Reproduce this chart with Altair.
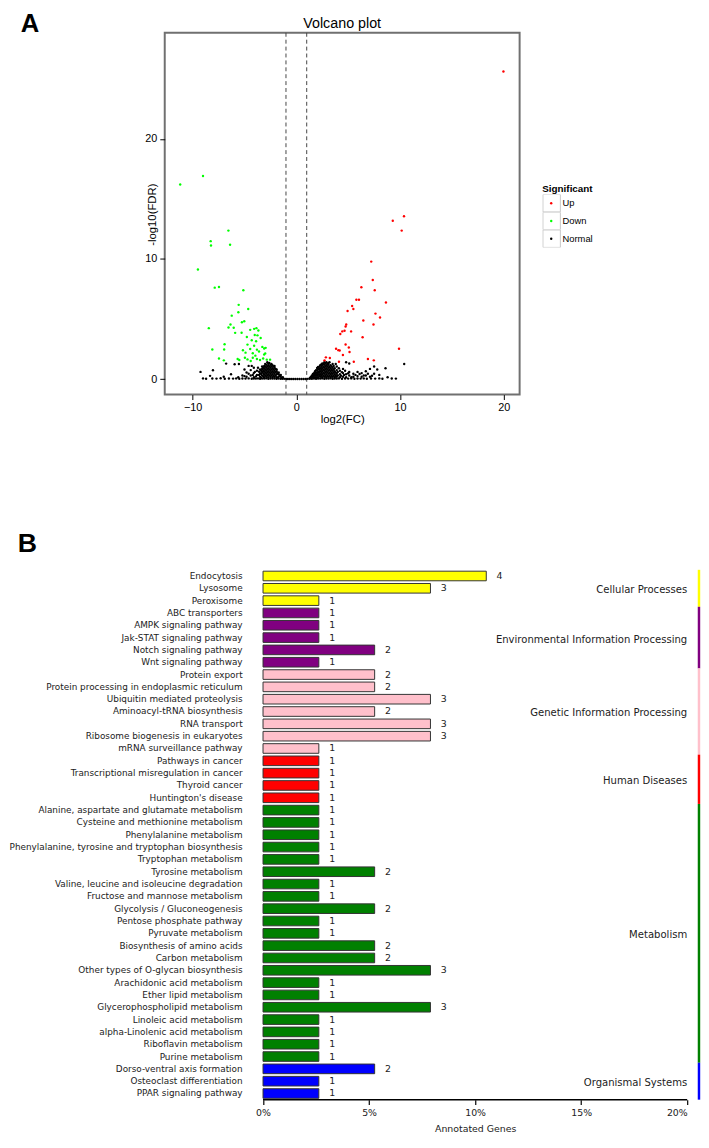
import altair as alt
import pandas as pd

# ---------------- Panel A: volcano plot data ----------------
up_points = [
    (19.97, 25.6), (10.38, 13.56), (9.30, 13.18), (10.16, 12.36), (7.22, 9.78),
    (7.37, 8.25), (6.27, 7.64), (7.56, 7.40), (5.79, 6.60), (6.04, 6.60),
    (8.64, 6.38), (5.38, 6.08), (5.50, 5.84), (4.94, 5.67), (7.63, 5.45),
    (8.07, 5.12), (6.46, 4.88), (7.44, 4.55), (4.81, 4.55), (4.75, 4.38),
    (4.65, 4.03), (4.43, 3.97), (4.24, 3.75), (5.28, 3.97), (6.39, 3.48),
    (4.75, 2.88), (5.06, 2.63), (3.83, 2.52), (4.05, 2.41), (4.18, 2.38),
    (4.49, 2.00), (5.13, 2.25), (9.90, 2.52), (2.85, 1.81), (3.23, 1.75),
    (2.72, 1.56), (4.11, 1.45), (6.90, 1.67), (7.47, 1.56), (5.54, 1.45),
]
down_points = [
    (-11.2, 16.2), (-9.0, 16.9), (-9.49, 9.12), (-6.55, 12.36), (-8.26, 11.48),
    (-8.23, 11.12), (-6.39, 11.18), (-7.87, 7.61), (-7.46, 7.66), (-5.11, 7.39),
    (-5.56, 6.18), (-4.64, 5.83), (-5.59, 5.56), (-6.23, 5.28), (-5.02, 4.82),
    (-5.25, 4.73), (-6.35, 4.54), (-8.44, 4.24), (-6.54, 4.30), (-6.04, 4.27),
    (-5.28, 3.86), (-5.90, 3.85), (-4.45, 4.10), (-4.07, 4.18), (-3.85, 4.24),
    (-3.66, 4.05), (-4.01, 3.67), (-3.75, 3.64), (-4.77, 3.50), (-4.30, 3.23),
    (-3.88, 3.15), (-3.44, 3.42), (-3.28, 2.68), (-2.96, 2.60), (-6.92, 2.90),
    (-6.96, 2.46), (-8.10, 2.46), (-4.71, 2.87), (-4.07, 2.77), (-4.45, 2.50),
    (-3.80, 2.45), (-4.90, 2.20), (-4.20, 2.15), (-3.60, 2.30), (-3.10, 2.05),
    (-7.46, 1.72), (-6.99, 1.56), (-5.66, 1.67), (-5.50, 1.59), (-4.96, 1.78),
    (-4.71, 1.64), (-4.20, 1.78), (-3.80, 1.67), (-3.50, 1.59), (-3.20, 1.72),
    (-2.85, 1.62), (-4.40, 1.50), (-5.15, 2.40), (-3.95, 1.95), (-2.53, 1.62),
    (-3.00, 2.14), (-3.10, 2.55),
]
normal_points = [
    # points lying close to zero
    (-9.0, 0.06), (-8.7, 0.03), (-8.1, 0.05), (-7.7, 0.04), (-7.3, 0.07), (-6.9, 0.03),
    (-6.5, 0.05), (-6.1, 0.04), (-5.8, 0.06), (-5.5, 0.03), (-5.2, 0.05), (-4.9, 0.04),
    (-4.6, 0.06), (-4.3, 0.03), (-4.1, 0.05), (-3.9, 0.04), (-3.7, 0.06), (-3.5, 0.03),
    (-3.3, 0.05), (-3.1, 0.04), (-2.9, 0.06), (-2.7, 0.03), (-2.5, 0.05), (-2.3, 0.04),
    (-2.1, 0.05), (-1.9, 0.03), (-1.7, 0.04), (-1.5, 0.02), (-1.3, 0.03), (-1.1, 0.02),
    (-0.9, 0.01), (-0.7, 0.01), (-0.5, 0.01), (-0.3, 0.01), (-0.1, 0.01), (0.1, 0.01),
    (0.3, 0.01), (0.5, 0.01), (0.7, 0.01), (0.9, 0.01), (1.1, 0.02), (1.3, 0.03),
    (1.5, 0.02), (1.7, 0.04), (1.9, 0.03), (2.1, 0.05), (2.3, 0.04), (2.5, 0.06),
    (2.7, 0.03), (2.9, 0.05), (3.1, 0.04), (3.3, 0.06), (3.5, 0.03), (3.7, 0.05),
    (3.9, 0.04), (4.1, 0.06), (4.4, 0.03), (4.7, 0.05), (5.0, 0.04), (5.3, 0.06),
    (5.6, 0.03), (5.9, 0.05), (6.2, 0.04), (6.5, 0.06), (6.8, 0.03), (7.2, 0.05),
    (7.6, 0.04), (8.0, 0.06), (8.3, 0.03), (9.2, 0.05), (9.6, 0.04),
    # left hill
    (-1.3, 0.15), (-1.5, 0.20), (-1.5, 0.35), (-1.7, 0.20), (-1.7, 0.40), (-1.7, 0.55),
    (-1.9, 0.15), (-1.9, 0.40), (-1.9, 0.65), (-1.9, 0.80), (-2.1, 0.20), (-2.1, 0.45),
    (-2.1, 0.70), (-2.1, 0.95), (-2.1, 1.10), (-2.3, 0.15), (-2.3, 0.40), (-2.3, 0.65),
    (-2.3, 0.90), (-2.3, 1.15), (-2.5, 0.20), (-2.5, 0.45), (-2.5, 0.70), (-2.5, 0.95),
    (-2.5, 1.20), (-2.7, 0.15), (-2.7, 0.40), (-2.7, 0.65), (-2.7, 0.90), (-2.7, 1.15),
    (-2.7, 1.30), (-2.9, 0.20), (-2.9, 0.45), (-2.9, 0.70), (-2.9, 0.95), (-2.9, 1.20),
    (-3.1, 0.15), (-3.1, 0.40), (-3.1, 0.65), (-3.1, 0.90), (-3.1, 1.10), (-3.3, 0.30),
    (-3.3, 0.60), (-3.3, 0.85), (-3.3, 1.05), (-3.5, 0.20), (-3.5, 0.50), (-3.5, 0.80),
    (-3.8, 0.35), (-3.8, 0.70), (-4.1, 0.15), (-4.1, 0.50), (-4.1, 0.95), (-4.4, 0.30),
    (-4.4, 0.75), (-4.8, 0.20), (-4.8, 0.55), (-5.2, 0.30), (-5.6, 0.15),
    (-1.4, 0.08), (-1.6, 0.28), (-1.8, 0.12), (-1.8, 0.48), (-2.0, 0.30), (-2.0, 0.58),
    (-2.0, 0.85), (-2.2, 0.28), (-2.2, 0.55), (-2.2, 0.80), (-2.2, 1.05), (-2.4, 0.30),
    (-2.4, 0.55), (-2.4, 0.80), (-2.4, 1.05), (-2.4, 1.25), (-2.6, 0.30), (-2.6, 0.55),
    (-2.6, 0.80), (-2.6, 1.05), (-2.6, 1.35), (-2.8, 0.30), (-2.8, 0.55), (-2.8, 0.80),
    (-2.8, 1.05), (-2.8, 1.40), (-3.0, 0.30), (-3.0, 0.55), (-3.0, 0.80), (-3.0, 1.05),
    (-3.0, 1.25), (-3.2, 0.25), (-3.2, 0.50), (-3.2, 0.75), (-3.2, 0.98), (-3.4, 0.12),
    (-3.4, 0.42), (-3.4, 0.70), (-3.6, 0.35), (-3.6, 0.62), (-3.7, 0.95), (-3.9, 0.22),
    (-4.0, 0.60), (-4.2, 0.35), (-4.3, 1.10), (-4.6, 0.45), (-5.0, 0.25),
    # right hill
    (1.3, 0.10), (1.5, 0.15), (1.5, 0.30), (1.7, 0.15), (1.7, 0.35), (1.7, 0.50),
    (1.9, 0.15), (1.9, 0.35), (1.9, 0.55), (1.9, 0.75), (2.1, 0.15), (2.1, 0.40),
    (2.1, 0.60), (2.1, 0.85), (2.1, 1.00), (2.3, 0.20), (2.3, 0.40), (2.3, 0.65),
    (2.3, 0.90), (2.3, 1.15), (2.5, 0.15), (2.5, 0.40), (2.5, 0.65), (2.5, 0.90),
    (2.5, 1.15), (2.5, 1.30), (2.7, 0.20), (2.7, 0.45), (2.7, 0.70), (2.7, 0.95),
    (2.7, 1.20), (2.7, 1.40), (2.9, 0.15), (2.9, 0.40), (2.9, 0.65), (2.9, 0.90),
    (2.9, 1.15), (2.9, 1.40), (3.1, 0.20), (3.1, 0.45), (3.1, 0.70), (3.1, 0.95),
    (3.1, 1.20), (3.1, 1.35), (3.3, 0.15), (3.3, 0.40), (3.3, 0.65), (3.3, 0.90),
    (3.3, 1.15), (3.5, 0.20), (3.5, 0.45), (3.5, 0.70), (3.5, 0.95), (3.5, 1.25),
    (3.7, 0.15), (3.7, 0.40), (3.7, 0.65), (3.7, 0.90), (3.9, 0.20), (3.9, 0.45),
    (3.9, 0.75), (3.9, 1.05), (4.2, 0.15), (4.2, 0.40), (4.2, 0.70), (4.5, 0.20),
    (4.5, 0.50), (4.5, 0.85), (4.8, 0.15), (4.8, 0.40), (4.8, 1.40), (5.1, 0.30),
    (5.1, 0.60), (5.1, 1.30), (5.5, 0.20), (5.5, 0.45), (5.9, 0.25), (5.9, 0.60),
    (6.3, 0.20), (6.3, 0.50), (6.7, 0.30), (6.7, 0.65), (7.1, 0.20), (7.1, 0.85),
    (7.5, 0.45), (7.5, 1.05), (7.8, 0.80), (8.6, 0.90), (10.4, 1.26),
    (1.4, 0.18), (1.6, 0.22), (1.6, 0.42), (1.8, 0.28), (1.8, 0.48), (1.8, 0.65),
    (2.0, 0.28), (2.0, 0.50), (2.0, 0.72), (2.0, 0.92), (2.2, 0.28), (2.2, 0.52),
    (2.2, 0.78), (2.2, 1.02), (2.4, 0.28), (2.4, 0.52), (2.4, 0.78), (2.4, 1.02),
    (2.4, 1.22), (2.6, 0.28), (2.6, 0.52), (2.6, 0.78), (2.6, 1.02), (2.6, 1.25),
    (2.8, 0.28), (2.8, 0.55), (2.8, 0.80), (2.8, 1.05), (2.8, 1.30), (3.0, 0.28),
    (3.0, 0.55), (3.0, 0.80), (3.0, 1.05), (3.0, 1.28), (3.2, 0.28), (3.2, 0.52),
    (3.2, 0.78), (3.2, 1.02), (3.2, 1.40), (3.4, 0.28), (3.4, 0.52), (3.4, 0.78),
    (3.4, 1.05), (3.6, 0.28), (3.6, 0.55), (3.6, 0.80), (3.6, 1.10), (3.8, 0.28),
    (3.8, 0.55), (3.8, 1.25), (4.0, 0.30), (4.0, 0.60), (4.1, 0.90), (4.3, 0.28),
    (4.4, 0.58), (4.6, 0.35), (4.7, 0.70), (5.0, 0.48), (5.3, 0.15), (5.7, 0.35),
    (6.1, 0.42), (6.5, 0.30), (6.9, 0.45), (7.3, 0.28), (8.0, 0.35), (8.8, 0.15),
    # scattered
    (-9.24, 0.60), (-8.32, 0.27), (-8.04, 0.74), (-6.77, 1.29), (-5.95, 1.23),
    (-5.54, 1.26), (-6.30, 0.40), (-5.00, 0.80), (-4.60, 1.10), (-7.00, 0.20),
]
fc_cutoffs = [-1, 1]
volcano_x_ticks = [-10, 0, 10, 20]
volcano_y_ticks = [0, 10, 20]
sig_levels = ["Up", "Down", "Normal"]
sig_colors = ["#ff0000", "#00ff00", "#000000"]
key_slots = ["k1", "k2", "k3"]   # legend key boxes (labels hidden)

# ---------------- Panel B: KEGG classification data ----------------
pathways = [
    "Endocytosis", "Lysosome", "Peroxisome",
    "ABC transporters", "AMPK signaling pathway", "Jak-STAT signaling pathway",
    "Notch signaling pathway", "Wnt signaling pathway",
    "Protein export", "Protein processing in endoplasmic reticulum",
    "Ubiquitin mediated proteolysis", "Aminoacyl-tRNA biosynthesis", "RNA transport",
    "Ribosome biogenesis in eukaryotes", "mRNA surveillance pathway",
    "Pathways in cancer", "Transcriptional misregulation in cancer", "Thyroid cancer",
    "Huntington's disease",
    "Alanine, aspartate and glutamate metabolism", "Cysteine and methionine metabolism",
    "Phenylalanine metabolism", "Phenylalanine, tyrosine and tryptophan biosynthesis",
    "Tryptophan metabolism", "Tyrosine metabolism",
    "Valine, leucine and isoleucine degradation", "Fructose and mannose metabolism",
    "Glycolysis / Gluconeogenesis", "Pentose phosphate pathway", "Pyruvate metabolism",
    "Biosynthesis of amino acids", "Carbon metabolism",
    "Other types of O-glycan biosynthesis", "Arachidonic acid metabolism",
    "Ether lipid metabolism", "Glycerophospholipid metabolism", "Linoleic acid metabolism",
    "alpha-Linolenic acid metabolism", "Riboflavin metabolism", "Purine metabolism",
    "Dorso-ventral axis formation", "Osteoclast differentiation", "PPAR signaling pathway",
]
gene_counts = [
    4, 3, 1,
    1, 1, 1, 2, 1,
    2, 2, 3, 2, 3, 3, 1,
    1, 1, 1, 1,
    1, 1, 1, 1, 1, 2, 1, 1, 2, 1, 1, 2, 2, 3, 1, 1, 3, 1, 1, 1, 1,
    2, 1, 1,
]
class_names = ["Cellular Processes", "Environmental Information Processing",
               "Genetic Information Processing", "Human Diseases", "Metabolism",
               "Organismal Systems"]
class_sizes = [3, 5, 7, 4, 21, 3]
class_colors = ["#ffff00", "#800080", "#ffc0cb", "#ff0000", "#008000", "#0000ff"]
total_annotated = 38
pct_ticks = [0, 5, 10, 15, 20]

# ---------------- tables ----------------
vrows = []
for lvl, pts in [("Normal", normal_points), ("Down", down_points), ("Up", up_points)]:
    for x, y in pts:
        vrows.append({"log2FC": x, "logFDR": y, "Significant": lvl})
vdf = pd.DataFrame(vrows)

row_class, row_color = [], []
for name, n, col in zip(class_names, class_sizes, class_colors):
    row_class += [name] * n
    row_color += [col] * n
bdf = pd.DataFrame({
    "row": list(range(len(pathways))),
    "pathway": pathways,
    "count": gene_counts,
    "pct": [c / total_annotated * 100 for c in gene_counts],
    "cls": row_class,
    "color": row_color,
})
side = []
start = 0
for name, n, col in zip(class_names, class_sizes, class_colors):
    side.append({"cls": name, "first": start, "last": start + n - 1, "color": col})
    start += n
sdf = pd.DataFrame(side)

# ---------------- Panel A ----------------
VF = "Liberation Sans"
xs_a = alt.Scale(domain=[-12.69, 21.53], nice=False, zero=False)
ys_a = alt.Scale(domain=[-1.29, 28.82], nice=False, zero=False)
ax_x = alt.Axis(values=volcano_x_ticks, title="log2(FC)", grid=False, domain=False,
                tickColor="black", tickSize=5, labelFont=VF, labelFontSize=11,
                labelColor="black", labelPadding=2, titleFont=VF, titleFontSize=11.5,
                titleFontWeight="normal", titleColor="black", titlePadding=1)
ax_y = alt.Axis(values=volcano_y_ticks, title="-log10(FDR)", grid=False, domain=False,
                tickColor="black", tickSize=5, labelFont=VF, labelFontSize=11,
                labelColor="black", labelPadding=3, titleFont=VF, titleFontSize=11.5,
                titleFontWeight="normal", titleColor="black", titleX=-12, titleY=184,
                titleAlign="center", titleBaseline="middle", titleAngle=270)

KEY_H = 17.7  # height of one legend key box

cut_rules = alt.Chart(pd.DataFrame({"log2FC": fc_cutoffs})).mark_rule(
    strokeDash=[4, 3], color="#444444", strokeWidth=1
).encode(x=alt.X("log2FC:Q", scale=xs_a, axis=ax_x))

points = alt.Chart(vdf).mark_circle(size=6, opacity=1).encode(
    x=alt.X("log2FC:Q", scale=xs_a, axis=ax_x),
    y=alt.Y("logFDR:Q", scale=ys_a, axis=ax_y),
    color=alt.Color("Significant:N", scale=alt.Scale(domain=sig_levels, range=sig_colors),
                    legend=alt.Legend(title="Significant", orient="none", legendX=383,
                                      legendY=153, titleFont=VF, titleFontSize=10,
                                      titleFontWeight="bold", titleColor="black",
                                      titlePadding=1, labelFont=VF, labelFontSize=9.5,
                                      labelColor="black", symbolSize=6, symbolType="circle",
                                      symbolOffset=4.3, labelOffset=6.7, rowPadding=0,
                                      clipHeight=KEY_H)),
)

# invisible layer whose only purpose is the grey key boxes behind the legend dots
key_boxes = alt.Chart(pd.DataFrame({"key": key_slots})).mark_point(size=0).encode(
    x=alt.value(0), y=alt.value(0),
    shape=alt.Shape("key:N", scale=alt.Scale(domain=key_slots, range=["square"] * 3),
                    legend=alt.Legend(title="Significant", orient="none", legendX=383,
                                      legendY=153, titleFont=VF, titleFontSize=10,
                                      titleFontWeight="bold", titleColor="transparent",
                                      titlePadding=1, labelFont=VF, labelFontSize=9.5,
                                      labelExpr="''", symbolType="square",
                                      symbolSize=KEY_H * KEY_H, symbolStrokeColor="#c8c8c8",
                                      symbolStrokeWidth=1, symbolFillColor="transparent",
                                      symbolOpacity=1, symbolOffset=0, rowPadding=0,
                                      clipHeight=KEY_H)),
)

letter_a = alt.Chart(pd.DataFrame({"t": ["A"]})).mark_text(
    font=VF, fontSize=26, fontWeight="bold", align="left", baseline="alphabetic", color="black"
).encode(text="t:N", x=alt.value(-146), y=alt.value(-1))

title_a = alt.Chart(pd.DataFrame({"t": ["Volcano plot"]})).mark_text(
    font=VF, fontSize=14.5, align="center", baseline="alphabetic", color="black"
).encode(text="t:N", x=alt.value(180), y=alt.value(-4.5))

panel_a = alt.layer(cut_rules, key_boxes, points, letter_a, title_a).properties(
    width=360, height=367,
    view=alt.ViewBackground(stroke="#707070", strokeWidth=2),
)

# ---------------- Panel B ----------------
BF = "DejaVu Sans"
xs_b = alt.Scale(domain=[-4.634, 20], nice=False, zero=False)
ys_b = alt.Scale(domain=[-0.5, len(pathways) - 0.5], nice=False, zero=False, reverse=True)
ax_b = alt.Axis(values=pct_ticks, labelExpr="datum.value + '%'", title="Annotated Genes",
                grid=False, domain=False, tickColor="black", tickSize=5, tickWidth=1.2,
                labelFont=BF, labelFontSize=9.5, labelColor="#222222", labelPadding=3,
                titleFont=BF, titleFontSize=9.5, titleFontWeight="normal",
                titleColor="#222222", titleX=314.9, titleY=29, titleAlign="center",
                titleBaseline="middle")

bars = alt.Chart(bdf).transform_calculate(
    y_lo="datum.row - 0.39", y_hi="datum.row + 0.39"
).mark_rect(stroke="#333333", strokeWidth=1).encode(
    x=alt.X("pct:Q", scale=xs_b, axis=ax_b),
    x2=alt.datum(0),
    y=alt.Y("y_lo:Q", scale=ys_b, axis=None),
    y2="y_hi:Q",
    color=alt.Color("color:N", scale=None),
)

value_text = alt.Chart(bdf).mark_text(
    align="left", baseline="middle", dx=10.5, font=BF, fontSize=9.5, color="#222222"
).encode(
    x=alt.X("pct:Q", scale=xs_b, axis=ax_b),
    y=alt.Y("row:Q", scale=ys_b, axis=None),
    text="count:Q",
)

row_labels = alt.Chart(bdf).mark_text(
    align="right", baseline="middle", dx=-20.7, font=BF, fontSize=9, color="#222222"
).encode(
    x=alt.datum(0),
    y=alt.Y("row:Q", scale=ys_b, axis=None),
    text="pathway:N",
)

axis_line = alt.Chart(pd.DataFrame({"pct": [pct_ticks[0]], "b": [pct_ticks[-1]]})).mark_rule(
    color="black", strokeWidth=1.6
).encode(x=alt.X("pct:Q", scale=xs_b, axis=ax_b), x2="b:Q", y=alt.value(537.5))

side_bar = alt.Chart(sdf).transform_calculate(
    y0="datum.first - 0.5", y1="datum.last + 0.5"
).mark_rect().encode(
    x=alt.value(540.7), x2=alt.value(543.2),
    y=alt.Y("y0:Q", scale=ys_b, axis=None), y2="y1:Q",
    color=alt.Color("color:N", scale=None),
)

class_text = alt.Chart(sdf).transform_calculate(
    ymid="(datum.first + datum.last) / 2"
).mark_text(align="right", baseline="middle", dy=2, font=BF, fontSize=10.2,
            color="#222222").encode(
    x=alt.value(530),
    y=alt.Y("ymid:Q", scale=ys_b, axis=None),
    text="cls:N",
)

letter_b = alt.Chart(pd.DataFrame({"t": ["B"]})).mark_text(
    font=VF, fontSize=27, fontWeight="bold", align="left", baseline="alphabetic", color="black"
).encode(text="t:N", x=alt.value(-149), y=alt.value(-18))

panel_b = alt.layer(bars, value_text, row_labels, axis_line, side_bar, class_text,
                    letter_b).properties(width=530, height=537.5)

chart = alt.vconcat(panel_a, panel_b, spacing=177.75, bounds="flush").resolve_scale(
    x="independent", y="independent", color="independent"
).configure_view(strokeWidth=0).properties(
    padding={"left": 1, "top": -6, "right": 0, "bottom": 0}
)

chart.save("out.html", embed_options={"renderer": "svg", "actions": False})
